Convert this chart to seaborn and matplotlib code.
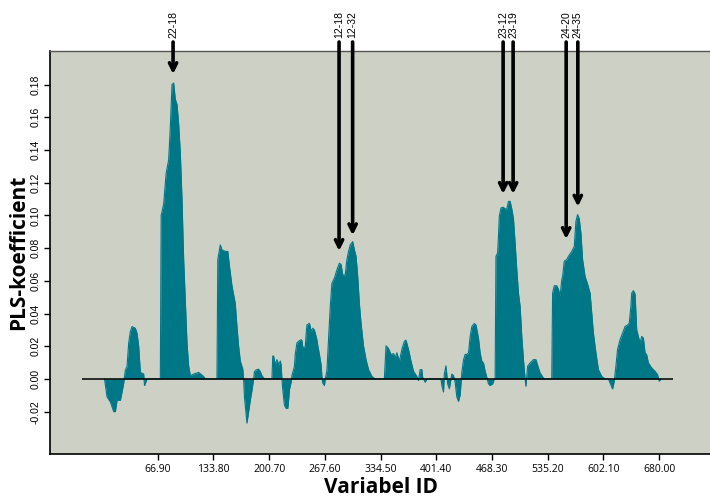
import numpy as np
import pandas as pd
import matplotlib
matplotlib.use('Agg')
import matplotlib.pyplot as plt
import seaborn as sns

# === Data ===
var_id = [3, 6, 10, 14, 16, 18, 22, 24, 26, 28, 30, 32, 34, 36, 40, 42, 44, 46, 50, 51, 54,
          70, 71, 74, 77, 80, 82, 84, 86, 88, 90, 92, 94, 96, 97, 98, 100, 102, 104, 106, 110, 116, 122, 124,
          138, 139, 142, 144, 148, 151, 153, 156, 160, 162, 164, 166, 169, 170, 171, 173, 174, 176, 178, 180,
          182, 183, 185, 188, 190, 192, 195,
          204, 205, 206, 208, 210, 212, 214, 215, 216, 217, 219, 221, 223, 224, 225, 227, 228, 229, 231, 232,
          234, 236, 239, 240, 241, 244, 245, 246, 249, 250, 251, 253, 255, 256, 258, 259, 261, 263, 264, 265,
          267, 268,
          270, 272, 274, 276, 279, 282, 285, 287, 289, 292, 294, 296, 298, 301, 303, 305, 307, 309, 311, 314,
          317, 320, 324, 328,
          339, 341, 344, 347, 350, 352, 354, 357, 360, 363, 365, 368, 371, 374, 378, 380, 382, 384, 385, 388, 390,
          407, 408, 410, 411, 413, 415, 417, 419, 420, 422, 424, 426, 428, 430, 432, 434, 436, 438, 440, 442,
          444, 447, 449, 452, 454, 456, 458, 460, 462, 464, 466, 469, 471,
          472, 473, 475, 476, 477, 479, 482, 484, 486, 488, 490, 492, 494, 496, 498, 500, 502, 504, 506, 508,
          509, 511, 514, 518, 521, 524, 526, 530, 532,
          540, 541, 543, 546, 548, 550, 552, 553, 555, 558, 560, 564, 567, 569, 571, 573, 575, 577, 580, 583,
          586, 588, 590, 593, 596, 600, 604, 608, 610, 613, 615, 617, 619, 622, 625, 628, 631, 633, 635, 636,
          638, 640, 642, 644, 646, 648, 650, 652, 654, 656, 660, 664, 667, 669, 671]
pls_coef = [0.0, -0.011, -0.014, -0.020, -0.020, -0.013, -0.013, -0.008, -0.0025, 0.0055, 0.0075, 0.022,
            0.029, 0.032, 0.031, 0.028, 0.020, 0.004, 0.003, -0.004, 0.0,
            0.0, 0.100, 0.107, 0.126, 0.134, 0.154, 0.180, 0.181, 0.171, 0.168, 0.156, 0.138, 0.110, 0.091,
            0.073, 0.048, 0.022, 0.008, 0.002, 0.003, 0.004, 0.0015, 0.0,
            0.0, 0.073, 0.082, 0.079, 0.078, 0.078, 0.069, 0.057, 0.046, 0.032, 0.020, 0.011, 0.006, 0.0,
            -0.011, -0.022, -0.027, -0.020, -0.013, -0.007, 0.0, 0.0045, 0.0055, 0.006, 0.0045, 0.002, 0.0,
            0.0, 0.014, 0.014, 0.0086, 0.0118, 0.0086, 0.011, 0.0086, 0.0, -0.0065, -0.016, -0.018, -0.018,
            -0.013, -0.0065, -0.002, 0.002, 0.004, 0.0076, 0.015, 0.022, 0.023, 0.024, 0.0235, 0.0195, 0.0195,
            0.027, 0.033, 0.034, 0.032, 0.029, 0.031, 0.030, 0.028, 0.024, 0.0205, 0.015, 0.0088, 0.0016,
            -0.0025, -0.004, 0.0,
            0.005, 0.024, 0.044, 0.0585, 0.0617, 0.0667, 0.0708, 0.070, 0.0636, 0.0636, 0.073, 0.078, 0.082,
            0.084, 0.079, 0.075, 0.0626, 0.046, 0.034, 0.020, 0.0118, 0.0057, 0.0016, 0.0,
            0.0, 0.0203, 0.0186, 0.0149, 0.0155, 0.0128, 0.016, 0.0108, 0.018, 0.023, 0.0237, 0.018, 0.0108,
            0.0047, 0.0016, -0.001, 0.0057, 0.0057, 0.001, -0.002, 0.0,
            0.0, -0.004, -0.008, 0.003, 0.008, -0.003, -0.006, 0.0, 0.003, 0.002, -0.002, -0.011, -0.0137,
            -0.0098, 0.004, 0.0116, 0.015, 0.015, 0.0159, 0.026, 0.032, 0.0339, 0.033, 0.025, 0.0159, 0.0108,
            0.0098, 0.0047, 0.001, -0.003, -0.004, -0.003, 0.0,
            0.0, 0.075, 0.077, 0.0872, 0.0995, 0.1046, 0.105, 0.104, 0.104, 0.1086, 0.1086, 0.104, 0.098,
            0.083, 0.0668, 0.0525, 0.0444, 0.026, 0.0118, 0.0, -0.0045, 0.0077, 0.0098, 0.0118, 0.0118,
            0.0067, 0.0037, 0.0006, 0.0,
            0.0, 0.0525, 0.057, 0.057, 0.055, 0.0505, 0.0607, 0.0627, 0.072, 0.073, 0.075, 0.078, 0.081,
            0.0964, 0.1005, 0.098, 0.0892, 0.073, 0.0627, 0.058, 0.0525, 0.0403, 0.028, 0.016, 0.0057, 0.0016,
            0.0, 0.0, -0.0025, -0.0061, -0.0014, 0.0077, 0.018, 0.024, 0.028, 0.032, 0.033, 0.034, 0.0444,
            0.0525, 0.054, 0.052, 0.030, 0.026, 0.022, 0.026, 0.025, 0.016, 0.0148, 0.0098, 0.0067, 0.0047,
            0.0027, -0.0014, 0.0]

# baseline extent
zero_start, zero_end = -24, 685

# marked variables (arrows)
arrow_labels = ['22-18', '12-18', '12-32', '23-12', '23-19', '24-20', '24-35']
arrow_x = [85.3, 284.6, 300.9, 481.6, 493.6, 557.3, 571.3]
arrow_tip = [0.1865, 0.0783, 0.0879, 0.1132, 0.1132, 0.0856, 0.1054]
arrow_top = 0.2061

xtick_vals = [66.9, 133.8, 200.7, 267.6, 334.5, 401.4, 468.3, 535.2, 602.1, 669.0]
xtick_labels = ['66.90', '133.80', '200.70', '267.60', '334.50', '401.40', '468.30', '535.20', '602.10', '680.00']
ytick_vals = [-0.02, 0.0, 0.02, 0.04, 0.06, 0.08, 0.10, 0.12, 0.14, 0.16, 0.18]

df = pd.DataFrame({'Variabel ID': var_id, 'PLS-koefficient': pls_coef})

# === Plot ===
sns.set_theme(style='white')
plt.rcParams['font.family'] = ['Open Sans', 'DejaVu Sans']
plt.rcParams['text.color'] = 'black'
plt.rcParams['axes.labelcolor'] = 'black'
plt.rcParams['xtick.color'] = 'black'
plt.rcParams['ytick.color'] = 'black'

teal = '#007787'
bg = '#cdd0c5'

fig = plt.figure(figsize=(7.1, 4.98), dpi=100)
ax = fig.add_axes([0.0704, 0.0884, 0.9296, 0.8092])
ax.set_facecolor(bg)

ax.fill_between(df['Variabel ID'], df['PLS-koefficient'], 0, color=teal, linewidth=0)
sns.lineplot(data=df, x='Variabel ID', y='PLS-koefficient', color=teal, lw=0.8, ax=ax)
ax.hlines(0, zero_start, zero_end, color='black', lw=1.1, zorder=3)

for lab, x, tip in zip(arrow_labels, arrow_x, arrow_tip):
    ax.annotate('', xy=(x, tip), xytext=(x, arrow_top), annotation_clip=False,
                arrowprops=dict(arrowstyle='->', lw=2.6, color='black', mutation_scale=13,
                                shrinkA=0, shrinkB=0))
    ax.text(x, arrow_top + 0.0025, lab, rotation=90, ha='center', va='bottom', fontsize=7.5,
            color='black', family=['Liberation Sans', 'DejaVu Sans'], clip_on=False)

ax.set_xlim(-62.5, 730)
ax.set_ylim(-0.0459, 0.2006)
ax.set_xticks(xtick_vals)
ax.set_xticklabels(xtick_labels, fontsize=7.5)
ax.set_yticks(ytick_vals)
ax.set_yticklabels([f'{v:.2f}' for v in ytick_vals], rotation=90, va='center', fontsize=7.5,
                   family=['Liberation Sans', 'DejaVu Sans'])
ax.tick_params(axis='both', direction='out', length=4, width=1, color='black', labelcolor='black',
               pad=3, bottom=True, left=True)

for side in ['left', 'bottom']:
    ax.spines[side].set_color('black')
    ax.spines[side].set_linewidth(1.2)
ax.spines['top'].set_color('#555555')
ax.spines['top'].set_linewidth(1)
ax.spines['right'].set_visible(False)

ax.set_xlabel('Variabel ID', fontsize=15, fontweight='bold', color='black')
ax.set_ylabel('PLS-koefficient', fontsize=15, fontweight='bold', color='black')
ax.xaxis.set_label_coords(0.5015, -0.082)
ax.yaxis.set_label_coords(-0.048, 0.5)
ax.xaxis.label.set_va('center')
ax.yaxis.label.set_va('center')

fig.savefig('out.png', dpi=100)
